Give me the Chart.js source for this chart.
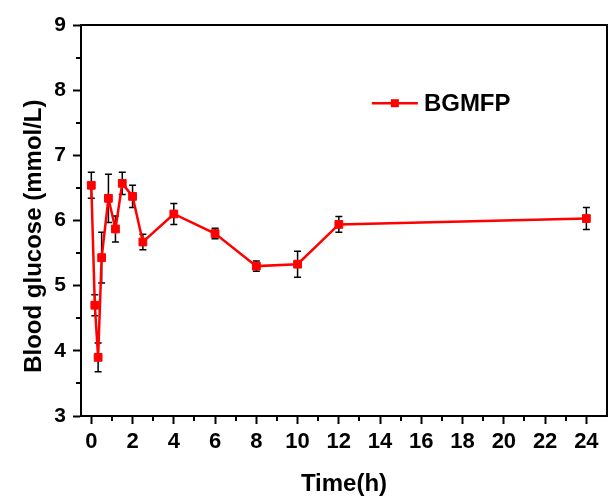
<!DOCTYPE html>
<html>
<head>
<meta charset="utf-8">
<title>BGMFP blood glucose</title>
<script src="https://cdn.jsdelivr.net/npm/chart.js@4.4.1/dist/chart.umd.min.js"></script>
<style>
    html, body { margin: 0; padding: 0; background: #fff; }
    canvas { display: block; }
</style>
</head>
<body>
<canvas id="glucoseChart" width="608" height="501"></canvas>
<script>
// sampling times (h), mean glucose (mmol/L) and error
const times = [0, 0.17, 0.33, 0.5, 0.83, 1.17, 1.5, 2, 2.5, 4, 6, 8, 10, 12, 24];
const glucose = [6.54, 4.70, 3.90, 5.43, 6.34, 5.87, 6.57, 6.37, 5.67, 6.10, 5.80, 5.30, 5.33, 5.94, 6.03];
const errors = [0.20, 0.16, 0.22, 0.39, 0.37, 0.20, 0.17, 0.17, 0.12, 0.16, 0.08, 0.08, 0.20, 0.12, 0.17];

const xTicks = [0, 2, 4, 6, 8, 10, 12, 14, 16, 18, 20, 22, 24];
const xMinor = [1, 3, 5, 7, 9, 11, 13, 15, 17, 19, 21, 23];
const yTicks = [3, 4, 5, 6, 7, 8, 9];
const yMinor = [3.5, 4.5, 5.5, 6.5, 7.5, 8.5];

const seriesName = 'BGMFP';
const yTitle = 'Blood glucose (mmol/L)';
const RED = '#ff0000';
const FONT = "'Liberation Sans', Arial, sans-serif";

// error bars drawn under the line and markers
const errorBars = {
    id: 'errorBars',
    beforeDatasetsDraw(chart) {
        const { ctx, scales: { x, y } } = chart;
        ctx.save();
        ctx.strokeStyle = '#000';
        ctx.lineWidth = 1.5;
        times.forEach((t, i) => {
            const px = x.getPixelForValue(t);
            const top = y.getPixelForValue(glucose[i] + errors[i]);
            const bot = y.getPixelForValue(glucose[i] - errors[i]);
            ctx.beginPath();
            ctx.moveTo(px, top); ctx.lineTo(px, bot);
            ctx.moveTo(px - 3.5, top); ctx.lineTo(px + 3.5, top);
            ctx.moveTo(px - 3.5, bot); ctx.lineTo(px + 3.5, bot);
            ctx.stroke();
        });
        ctx.restore();
    }
};

// closed frame, minor ticks, y title and the in-plot legend
const frame = {
    id: 'frame',
    afterDraw(chart) {
        const { ctx, chartArea: a, scales: { x, y } } = chart;
        ctx.save();
        ctx.strokeStyle = '#000';
        ctx.lineWidth = 2;
        ctx.beginPath();
        ctx.moveTo(a.left, a.top); ctx.lineTo(a.right, a.top); ctx.lineTo(a.right, a.bottom);
        ctx.stroke();

        ctx.beginPath();
        xMinor.forEach(v => {
            const px = Math.round(x.getPixelForValue(v));
            ctx.moveTo(px, a.bottom); ctx.lineTo(px, a.bottom + 5);
        });
        yMinor.forEach(v => {
            const py = Math.round(y.getPixelForValue(v));
            ctx.moveTo(a.left, py); ctx.lineTo(a.left - 5, py);
        });
        ctx.stroke();

        // y axis title, sits a little below the axis middle
        ctx.save();
        ctx.translate(34, a.top + a.height * 0.54);
        ctx.rotate(-Math.PI / 2);
        ctx.fillStyle = '#000';
        ctx.font = 'bold 24px ' + FONT;
        ctx.textAlign = 'center';
        ctx.textBaseline = 'middle';
        ctx.fillText(yTitle, 0, 0);
        ctx.restore();

        // legend
        const lx = a.left + a.width * 0.553;
        const ly = a.top + a.height * 0.2;
        ctx.strokeStyle = RED;
        ctx.lineWidth = 2.5;
        ctx.beginPath();
        ctx.moveTo(lx, ly); ctx.lineTo(lx + 46, ly);
        ctx.stroke();
        ctx.fillStyle = RED;
        ctx.fillRect(lx + 23 - 4, ly - 4, 8, 8);
        ctx.fillStyle = '#000';
        ctx.font = 'bold 24px ' + FONT;
        ctx.textBaseline = 'middle';
        ctx.fillText(seriesName, lx + 52, ly + 1);
        ctx.restore();
    }
};

new Chart(document.getElementById('glucoseChart'), {
    type: 'line',
    data: {
        datasets: [{
            label: seriesName,
            data: times.map((t, i) => ({ x: t, y: glucose[i] })),
            borderColor: RED,
            backgroundColor: RED,
            borderWidth: 2.5,
            tension: 0,
            pointStyle: 'rect',
            pointRadius: 5.5,
            pointBorderWidth: 1,
            pointBackgroundColor: RED,
            pointBorderColor: RED
        }]
    },
    options: {
        responsive: false,
        animation: false,
        layout: { autoPadding: false, padding: { top: 25, right: 1, left: 0, bottom: 0 } },
        plugins: {
            legend: { display: false },
            tooltip: { enabled: false }
        },
        scales: {
            x: {
                type: 'linear',
                min: -0.5,
                max: 25,
                afterBuildTicks: s => { s.ticks = xTicks.map(v => ({ value: v })); },
                afterFit: s => { s.height = 85; s.paddingLeft = 0; s.paddingRight = 0; },
                border: { display: true, color: '#000', width: 2 },
                grid: { drawOnChartArea: false, tickLength: 8, tickWidth: 2, tickColor: '#000' },
                ticks: {
                    color: '#000',
                    padding: 5,
                    maxRotation: 0,
                    font: { family: FONT, size: 22, weight: 'bold' }
                },
                title: {
                    display: true,
                    text: 'Time(h)',
                    color: '#000',
                    padding: { top: 0, bottom: 2 },
                    font: { family: FONT, size: 24, weight: 'bold' }
                }
            },
            y: {
                min: 3,
                max: 9,
                afterBuildTicks: s => { s.ticks = yTicks.map(v => ({ value: v })); },
                afterFit: s => { s.width = 81; s.paddingTop = 0; s.paddingBottom = 0; },
                border: { display: true, color: '#000', width: 2 },
                grid: { drawOnChartArea: false, tickLength: 8, tickWidth: 2, tickColor: '#000' },
                ticks: {
                    color: '#000',
                    padding: 7,
                    font: { family: FONT, size: 21, weight: 'bold' }
                }
            }
        }
    },
    plugins: [errorBars, frame]
});
</script>
</body>
</html>
